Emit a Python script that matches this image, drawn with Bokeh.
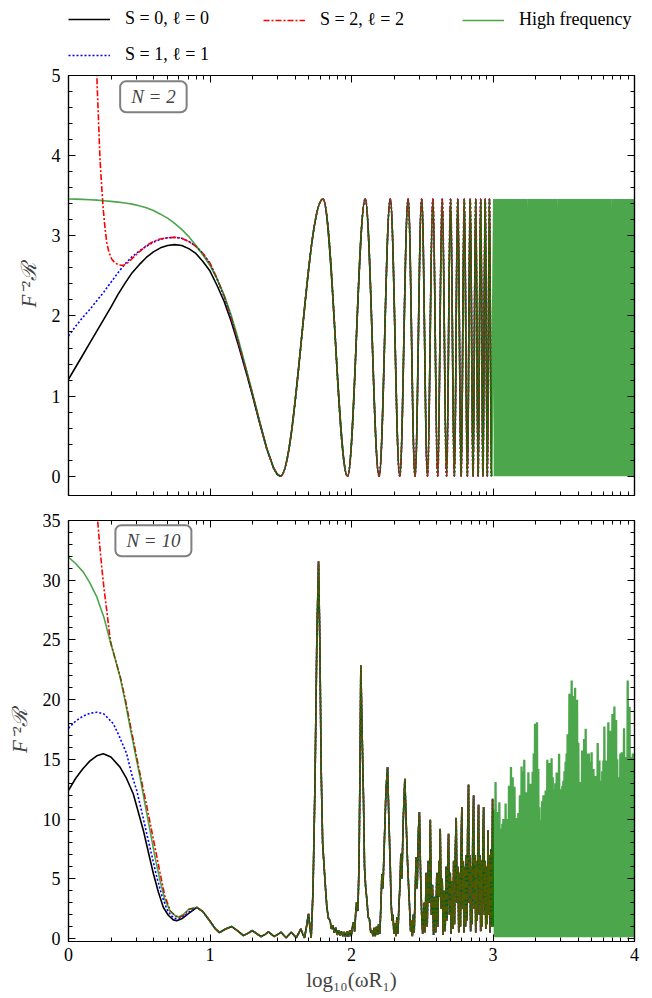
import numpy as np
from bokeh.plotting import figure
from bokeh.layouts import column
from bokeh.models import (Range1d, FixedTicker, LinearAxis, Legend, LegendItem, Label,
                          CustomLabelingPolicy)
from bokeh.embed import file_html
from bokeh.resources import INLINE

FONT = "Liberation Serif"

# Horizontal axis everywhere: log10(omega R1)

# ---------------- N = 2 ----------------
# low-frequency branches, down to the first zero of the response
top_lf_x = [0.0, 0.05, 0.1, 0.15, 0.2, 0.25, 0.3, 0.35, 0.4, 0.45,
            0.5, 0.55, 0.6, 0.65, 0.7, 0.75, 0.8, 0.85, 0.9, 0.95,
            1.0, 1.05, 1.1, 1.15, 1.2, 1.25, 1.3, 1.35, 1.4, 1.45,
            1.475, 1.497]
top_s0 = [1.21, 1.36, 1.51, 1.66, 1.81, 1.96, 2.11, 2.27, 2.41, 2.54,
          2.64, 2.73, 2.80, 2.85, 2.88, 2.89, 2.88, 2.84, 2.78, 2.68,
          2.56, 2.38, 2.18, 1.93, 1.64, 1.33, 1.01, 0.67, 0.35, 0.10,
          0.025, 0.0]
top_s1 = [1.75, 1.87, 1.98, 2.08, 2.19, 2.30, 2.42, 2.54, 2.65, 2.74,
          2.81, 2.87, 2.92, 2.955, 2.975, 2.98, 2.97, 2.93, 2.87, 2.78,
          2.65, 2.46, 2.24, 1.97, 1.67, 1.35, 1.02, 0.68, 0.35, 0.10,
          0.025, 0.0]
top_hf = [3.46, 3.458, 3.455, 3.45, 3.445, 3.438, 3.43, 3.42, 3.41, 3.395,
          3.375, 3.35, 3.315, 3.27, 3.22, 3.155, 3.08, 2.99, 2.88, 2.76,
          2.63, 2.46, 2.26, 2.01, 1.71, 1.38, 1.04, 0.69, 0.36, 0.10,
          0.025, 0.0]
top_s2_x = [0.1, 0.15, 0.18, 0.2, 0.213, 0.223, 0.235, 0.246, 0.258, 0.27,
            0.285, 0.305, 0.33, 0.36, 0.388, 0.42, 0.458, 0.5, 0.553, 0.6,
            0.647, 0.7, 0.753, 0.8, 0.85, 0.9, 0.95, 1.0, 1.05, 1.1,
            1.15, 1.2, 1.25, 1.3, 1.35, 1.4, 1.45, 1.475, 1.497]
top_s2 = [12.0, 7.5, 5.9, 5.0, 4.4, 3.94, 3.6, 3.32, 3.1, 2.92,
          2.8, 2.71, 2.66, 2.635, 2.63, 2.665, 2.73, 2.8, 2.88, 2.93,
          2.96, 2.975, 2.98, 2.97, 2.93, 2.87, 2.78, 2.66, 2.47, 2.25,
          1.98, 1.68, 1.36, 1.03, 0.68, 0.35, 0.10, 0.025, 0.0]
# alternating zeros and maxima of the common oscillation
top_ext_x = [1.497, 1.798, 1.972, 2.097, 2.195, 2.274, 2.341, 2.400, 2.449, 2.496,
             2.537, 2.575, 2.609, 2.641, 2.672, 2.700, 2.727, 2.751, 2.775, 2.797,
             2.819, 2.839, 2.859, 2.878, 2.895, 2.913, 2.929, 2.945, 2.960, 2.975,
             2.989]
top_ext_y = [0.0, 3.46, 0.0, 3.46, 0.0, 3.46, 0.0, 3.46, 0.0, 3.46,
             0.0, 3.46, 0.0, 3.46, 0.0, 3.46, 0.0, 3.46, 0.0, 3.46,
             0.0, 3.46, 0.0, 3.46, 0.0, 3.46, 0.0, 3.46, 0.0, 3.46,
             0.0]
top_peak = 3.46
top_floor = 0.0

# ---------------- N = 10 ----------------
bot_s0_x = [0.0, 0.05, 0.1, 0.15, 0.2, 0.246, 0.3, 0.364, 0.41, 0.458,
            0.5, 0.529, 0.565, 0.6, 0.635, 0.67, 0.705, 0.741, 0.765, 0.8, 0.85]
bot_s0 = [12.4, 13.4, 14.2, 14.85, 15.3, 15.47, 15.2, 14.35, 13.4, 12.1,
          10.3, 9.05, 7.2, 5.42, 3.9, 2.62, 1.95, 1.56, 1.48, 1.65, 2.1]
bot_s1_x = [0.0, 0.05, 0.1, 0.15, 0.2, 0.25, 0.317, 0.36, 0.41, 0.45,
            0.482, 0.52, 0.553, 0.59, 0.624, 0.66, 0.694, 0.725, 0.76, 0.8, 0.85]
bot_s1 = [17.6, 18.2, 18.6, 18.85, 18.95, 18.8, 17.98, 16.9, 15.5, 13.6,
          12.4, 10.5, 8.77, 6.9, 5.14, 3.6, 2.49, 1.9, 1.65, 1.75, 2.2]
bot_s2_x = [0.1, 0.15, 0.18, 0.206, 0.22, 0.235, 0.25, 0.27, 0.285, 0.298,
            0.33, 0.364, 0.4, 0.458, 0.5, 0.553, 0.6, 0.647, 0.68, 0.72,
            0.76, 0.79, 0.82, 0.85]
bot_s2 = [62.0, 46.0, 40.0, 35.0, 33.0, 31.1, 29.4, 27.5, 26.0, 24.8,
          23.4, 22.0, 20.1, 16.6, 14.1, 11.1, 8.3, 5.5, 3.6, 2.3,
          1.85, 1.8, 2.0, 2.45]
bot_hf_x = [0.0, 0.05, 0.105, 0.15, 0.2, 0.25, 0.293, 0.33, 0.364, 0.4,
            0.435, 0.47, 0.506, 0.54, 0.576, 0.61, 0.647, 0.68, 0.718, 0.75,
            0.777, 0.81, 0.85]
bot_hf = [31.94, 31.4, 30.68, 29.8, 28.6, 26.9, 24.96, 23.4, 21.9, 19.9,
          17.7, 15.6, 13.5, 11.3, 9.05, 6.9, 4.86, 3.3, 2.3, 1.95,
          1.8, 2.0, 2.45]
# common resonance structure (all four curves coincide here)
mrg_x = [0.907, 0.95, 1.0, 1.035, 1.067, 1.11, 1.154, 1.2, 1.236, 1.27,
         1.30, 1.33, 1.361, 1.39, 1.413, 1.435, 1.453, 1.48, 1.503, 1.52,
         1.538, 1.556, 1.574, 1.592, 1.609, 1.625, 1.642, 1.655, 1.668, 1.682,
         1.696, 1.706, 1.715, 1.728, 1.742, 1.755, 1.767, 1.776, 1.786, 1.796,
         1.805, 1.814, 1.826, 1.837, 1.849, 1.858, 1.868, 1.878, 1.888, 1.898,
         1.908, 1.918, 1.928, 1.938, 1.948, 1.958, 1.968, 1.978, 1.988, 1.998,
         2.007, 2.014, 2.022, 2.03, 2.036, 2.045, 2.053, 2.06, 2.066, 2.072,
         2.078, 2.085, 2.092, 2.1, 2.109, 2.118, 2.127, 2.136, 2.144, 2.152,
         2.16, 2.168, 2.176, 2.184, 2.192, 2.2, 2.207, 2.215, 2.222, 2.232,
         2.244, 2.255, 2.263, 2.274, 2.28, 2.287, 2.293, 2.3, 2.307, 2.314,
         2.321, 2.328, 2.336, 2.343, 2.349, 2.356, 2.366, 2.377, 2.387, 2.396,
         2.405, 2.412, 2.418, 2.424, 2.43, 2.437, 2.443, 2.45, 2.457, 2.464,
         2.473, 2.48, 2.488, 2.496, 2.503, 2.513, 2.52, 2.528, 2.535, 2.543,
         2.55, 2.557, 2.565, 2.572, 2.58, 2.588, 2.595, 2.603, 2.61, 2.618,
         2.622, 2.627, 2.634, 2.641, 2.648, 2.655, 2.662, 2.669, 2.675, 2.681,
         2.686, 2.692, 2.698, 2.704, 2.71, 2.716, 2.722, 2.728, 2.734, 2.74,
         2.746, 2.752, 2.758, 2.764, 2.77, 2.775, 2.78, 2.785, 2.79, 2.795,
         2.8, 2.806, 2.811, 2.816, 2.821, 2.827, 2.832, 2.837, 2.842, 2.847,
         2.852, 2.857, 2.863, 2.868, 2.873, 2.878, 2.883, 2.888, 2.893, 2.898,
         2.903, 2.908, 2.913, 2.918, 2.923, 2.929, 2.934, 2.939, 2.944, 2.949,
         2.954, 2.959, 2.965, 2.97, 2.975, 2.98, 2.985, 2.99, 2.997, 3.0]
mrg_y = [2.6, 2.25, 1.45, 0.85, 0.5, 0.8, 1.0, 0.6, 0.25, 0.45,
         0.67, 0.4, 0.17, 0.35, 0.56, 0.35, 0.17, 0.35, 0.53, 0.3,
         0.06, 0.3, 0.53, 0.3, 0.06, 0.4, 0.81, 0.4, 0.06, 1.0,
         2.07, 1.0, 0.05, 4.0, 13.0, 25.0, 31.57, 25.0, 14.0, 8.0,
         6.3, 4.6, 2.6, 1.7, 1.5, 0.8, 1.1, 0.5, 0.9, 0.3,
         0.7, 0.25, 0.6, 0.2, 0.55, 0.15, 0.6, 0.15, 0.7, 0.2,
         1.0, 1.37, 0.6, 2.2, 3.04, 2.3, 6.0, 14.0, 22.86, 19.0,
         15.5, 11.56, 6.0, 4.3, 3.2, 1.8, 1.6, 0.5, 0.67, 0.2,
         0.9, 0.2, 1.0, 0.3, 1.2, 0.4, 2.5, 5.4, 4.2, 8.0,
         12.5, 14.35, 10.5, 5.97, 3.0, 1.5, 2.0, 0.4, 1.3, 0.2,
         1.8, 0.4, 3.0, 4.5, 7.1, 5.0, 10.0, 13.37, 9.5, 6.4,
         4.0, 2.2, 0.6, 1.5, 0.2, 2.0, 0.5, 3.8, 6.8, 4.2,
         9.0, 10.58, 5.5, 2.0, 0.4, 3.0, 0.5, 5.5, 1.0, 6.5,
         3.0, 9.94, 2.0, 4.5, 0.3, 3.5, 0.5, 5.5, 1.0, 6.5,
         3.5, 9.19, 2.5, 5.0, 0.3, 4.0, 0.6, 6.0, 1.5, 6.8,
         8.77, 2.0, 5.5, 0.4, 4.8, 0.8, 6.5, 1.2, 7.5, 10.1,
         3.0, 6.0, 0.5, 5.5, 1.0, 8.0, 11.0, 2.5, 6.5, 0.5,
         6.0, 1.0, 7.0, 1.5, 9.0, 12.9, 3.0, 7.0, 0.6, 6.0,
         1.2, 8.5, 11.98, 2.5, 7.0, 0.5, 6.5, 1.5, 8.0, 11.2,
         2.0, 7.0, 0.6, 6.5, 1.0, 8.5, 11.0, 2.0, 6.5, 0.8,
         6.0, 1.2, 9.05, 2.0, 7.0, 0.5, 7.5, 1.0, 11.7, 1.0]

# high-frequency curve beyond log10(omega R1) = 3: positions of the maxima
band_x = [3.008, 3.018, 3.03, 3.045, 3.056, 3.066, 3.073, 3.082, 3.089, 3.1,
          3.113, 3.127, 3.139, 3.152, 3.165, 3.179, 3.19, 3.202, 3.212, 3.221,
          3.233, 3.25, 3.266, 3.28, 3.288, 3.297, 3.311, 3.32, 3.328, 3.337,
          3.347, 3.356, 3.372, 3.384, 3.398, 3.414, 3.422, 3.431, 3.44, 3.45,
          3.467, 3.48, 3.49, 3.497, 3.505, 3.513, 3.52, 3.527, 3.54, 3.556,
          3.568, 3.58, 3.594, 3.603, 3.615, 3.63, 3.644, 3.655, 3.667, 3.678,
          3.688, 3.697, 3.71, 3.725, 3.74, 3.752, 3.764, 3.772, 3.78, 3.787,
          3.8, 3.815, 3.827, 3.844, 3.858, 3.87, 3.878, 3.886, 3.9, 3.91,
          3.926, 3.94, 3.952, 3.965, 3.976, 3.988, 3.998]
band_top_n10 = [10.8, 13.1, 10.6, 11.4, 9.2, 9.6, 10.0, 9.5, 11.3, 10.0,
                12.8, 14.35, 13.5, 12.7, 10.1, 10.5, 12.0, 14.4, 14.0, 14.97,
                12.25, 13.93, 12.96, 13.97, 15.5, 17.98, 18.1, 14.2, 11.0, 9.9,
                11.5, 12.0, 12.4, 14.97, 14.7, 15.1, 13.5, 12.5, 13.0, 13.9,
                15.47, 12.5, 12.8, 13.2, 14.0, 14.8, 15.5, 17.1, 20.5, 21.6,
                20.3, 21.0, 20.0, 16.4, 13.1, 15.75, 16.7, 17.56, 15.5, 15.5,
                14.8, 15.6, 14.2, 13.6, 16.36, 14.9, 13.2, 14.0, 14.9, 17.76,
                14.9, 18.1, 17.4, 18.8, 19.43, 18.3, 15.0, 13.5, 15.5, 15.6,
                17.6, 15.2, 21.6, 19.4, 15.2, 15.5, 15.1]
band_floor_n10 = 0.1

# axis ticks
x_major = [0, 1, 2, 3, 4]
x_minor = [n + np.log10(k) for n in range(4) for k in range(2, 10)]
top_y_major = [0, 1, 2, 3, 4, 5]
top_y_minor = [i * 0.2 for i in range(26)]
bot_y_major = [0, 5, 10, 15, 20, 25, 30, 35]
bot_y_minor = list(range(36))

LW = 1.6
BAND_LW = 2.3
STYLE = {
    "s0": dict(line_color="black", line_width=LW),
    "s1": dict(line_color="blue", line_width=LW, line_dash="2 2"),
    "s2": dict(line_color="red", line_width=LW, line_dash="6 2 2 2"),
    "hf": dict(line_color="green", line_width=LW, line_alpha=0.7),
}
BAND_STYLE = dict(line_color="green", line_width=BAND_LW, line_alpha=0.7)

x_range = Range1d(0, 4)
no_labels = CustomLabelingPolicy(code="return new Set()")


def style_axis(ax, ticker, show_labels):
    ax.ticker = ticker
    ax.axis_line_color = "black"
    ax.axis_line_width = 1.2
    ax.major_tick_in = 7
    ax.major_tick_out = 0
    ax.minor_tick_in = 4
    ax.minor_tick_out = 0
    ax.major_tick_line_color = "black"
    ax.minor_tick_line_color = "black"
    ax.major_tick_line_width = 1
    ax.minor_tick_line_width = 1
    ax.major_label_text_font = FONT
    ax.major_label_text_color = "black"
    if show_labels:
        ax.major_label_text_font_size = "18px"
        ax.major_label_standoff = 8
    else:
        # tick marks only on the mirrored sides
        ax.major_label_policy = no_labels
        ax.major_label_text_font_size = "0px"
        ax.major_label_standoff = 0


def make_panel(height, y_lo, y_hi, y_major, y_minor, b_top, b_bottom, x_labels):
    p = figure(width=652, height=height, x_range=x_range, y_range=Range1d(y_lo, y_hi),
               output_backend="svg", toolbar_location=None,
               min_border_left=68, min_border_right=18,
               min_border_top=b_top, min_border_bottom=b_bottom)
    p.xgrid.visible = False
    p.ygrid.visible = False
    p.outline_line_color = "black"
    p.outline_line_width = 1.2
    xt = FixedTicker(ticks=x_major, minor_ticks=x_minor)
    yt = FixedTicker(ticks=y_major, minor_ticks=y_minor)
    top_ax = LinearAxis()
    right_ax = LinearAxis()
    p.add_layout(top_ax, "above")
    p.add_layout(right_ax, "right")
    style_axis(p.below[0], xt, x_labels)
    style_axis(top_ax, xt, False)
    style_axis(p.left[0], yt, True)
    style_axis(right_ax, yt, False)
    yax = p.left[0]
    yax.axis_label = "F\u207b\u00b2\u211b"
    yax.axis_label_text_font = FONT
    yax.axis_label_text_font_size = "21px"
    yax.axis_label_text_font_style = "italic"
    yax.axis_label_standoff = 8
    return p


def half_waves(p, ex, ey, style):
    # smooth half-periods between successive zeros and maxima
    x0 = np.asarray(ex[:-1], dtype=float)
    x1 = np.asarray(ex[1:], dtype=float)
    y0 = np.asarray(ey[:-1], dtype=float)
    y1 = np.asarray(ey[1:], dtype=float)
    d = x1 - x0
    p.bezier(x0=x0, y0=y0, x1=x1, y1=y1, cx0=x0 + 0.364 * d, cy0=y0,
             cx1=x1 - 0.364 * d, cy1=y1, **style)


def band_path(px, tops, floor):
    xs, ys = [], []
    for i, (x, t) in enumerate(zip(px, tops)):
        xs.append(x)
        ys.append(t)
        if i + 1 < len(px):
            xs.append(0.5 * (x + px[i + 1]))
            ys.append(floor)
    return xs, ys


def box_label(p, x, y, text):
    p.add_layout(Label(x=x, y=y, text=text, text_align="center",
                       text_baseline="middle", text_font=FONT, text_font_size="19px",
                       text_font_style="italic",
                       border_line_color="#808080", border_line_width=2,
                       border_radius=6, background_fill_color="white",
                       padding=dict(left=11, right=11, top=5, bottom=5)))


# ---------- legend strip ----------
p_leg = figure(width=652, height=66, x_range=Range1d(0, 1), y_range=Range1d(0, 1),
               x_axis_type=None, y_axis_type=None, output_backend="svg",
               toolbar_location=None, min_border=0, outline_line_color=None)
p_leg.xgrid.visible = False
p_leg.ygrid.visible = False
# legend keys only: undefined points, nothing is drawn in the strip itself
key_x = [np.nan, np.nan]
key_y = [np.nan, np.nan]
k_s0 = p_leg.line(x=key_x, y=key_y, **STYLE["s0"])
k_s1 = p_leg.line(x=key_x, y=key_y, **STYLE["s1"])
k_s2 = p_leg.line(x=key_x, y=key_y, **STYLE["s2"])
k_hf = p_leg.line(x=key_x, y=key_y, **STYLE["hf"])


def legend(items, loc):
    p_leg.add_layout(Legend(items=items, location=loc, orientation="vertical",
                            label_text_font=FONT, label_text_font_size="18px",
                            label_text_color="black", glyph_width=42, glyph_height=20,
                            label_height=20, label_standoff=15, spacing=15,
                            padding=0, margin=0,
                            border_line_alpha=0, background_fill_alpha=0))


legend([LegendItem(label="S = 0, \u2113 = 0", renderers=[k_s0]),
        LegendItem(label="S = 1, \u2113 = 1", renderers=[k_s1])], (0, 1))
legend([LegendItem(label="S = 2, \u2113 = 2", renderers=[k_s2])], (195, 36))
legend([LegendItem(label="High frequency", renderers=[k_hf])], (394, 36))

# ---------- upper panel: N = 2 ----------
p_top = make_panel(441, -0.24, 5.0, top_y_major, top_y_minor, 9, 12, False)

p_top.line(top_lf_x, top_s0, **STYLE["s0"])
half_waves(p_top, top_ext_x, top_ext_y, STYLE["s0"])
p_top.line(top_lf_x, top_s1, **STYLE["s1"])
half_waves(p_top, top_ext_x, top_ext_y, STYLE["s1"])
p_top.line(top_s2_x, top_s2, **STYLE["s2"])
half_waves(p_top, top_ext_x, top_ext_y, STYLE["s2"])
p_top.line(top_lf_x, top_hf, **STYLE["hf"])
half_waves(p_top, top_ext_x, top_ext_y, STYLE["hf"])
bx, by = band_path(band_x, [top_peak] * len(band_x), top_floor)
p_top.line([top_ext_x[-1]] + bx, [top_ext_y[-1]] + by, **BAND_STYLE)
box_label(p_top, 0.6, 4.735, "N = 2")

# ---------- lower panel: N = 10 ----------
p_bot = make_panel(491, -0.25, 35.0, bot_y_major, bot_y_minor, 13, 57, True)
xax = p_bot.below[0]
xax.axis_label = "log\u2081\u2080(\u03c9R\u2081)"
xax.axis_label_text_font = FONT
xax.axis_label_text_font_size = "21px"
xax.axis_label_text_font_style = "normal"
xax.axis_label_standoff = 4
xax.major_label_standoff = 6

p_bot.line(bot_s0_x + mrg_x, bot_s0 + mrg_y, **STYLE["s0"])
p_bot.line(bot_s1_x + mrg_x, bot_s1 + mrg_y, **STYLE["s1"])
p_bot.line(bot_s2_x + mrg_x, bot_s2 + mrg_y, **STYLE["s2"])
p_bot.line(bot_hf_x + mrg_x, bot_hf + mrg_y, **STYLE["hf"])
bx, by = band_path(band_x, band_top_n10, band_floor_n10)
p_bot.line([mrg_x[-1]] + bx, [mrg_y[-1]] + by, **BAND_STYLE)
box_label(p_bot, 0.6, 33.3, "N = 10")

layout = column(p_leg, p_top, p_bot)
open("out.html", "w").write(file_html(layout, INLINE))
